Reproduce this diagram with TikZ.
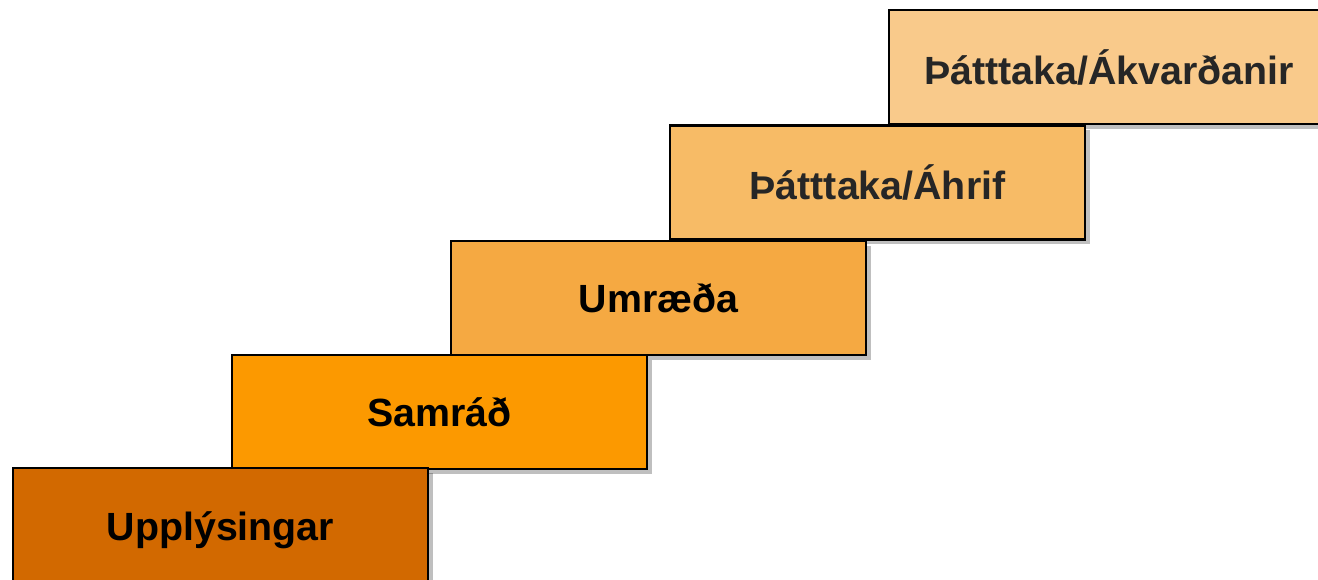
\documentclass[tikz,border=0pt]{standalone}
\usepackage{fontspec}
\setmainfont{Liberation Sans}
\usepackage{tikz}
\usetikzlibrary{shadows}
\definecolor{stepA}{RGB}{210,105,0}
\definecolor{stepB}{RGB}{252,153,0}
\definecolor{stepC}{RGB}{245,169,66}
\definecolor{stepD}{RGB}{247,187,102}
\definecolor{stepE}{RGB}{249,202,139}
\tikzset{
	stair/.style={draw=black, line width=1.7pt, inner sep=0pt,
		minimum width=311.25pt, minimum height=85.5pt,
		font=\fontsize{29.5}{35}\selectfont\bfseries,
		drop shadow={shadow xshift=3.5pt, shadow yshift=-3.5pt, fill=black, opacity=0.25}}
}

\begin{document}
\begin{tikzpicture}[x=0.75pt, y=0.75pt]
			%%%%% START %%%%%
			
			\useasboundingbox (0, 0) rectangle (1318, 580);
			\clip (0, 0) rectangle (1318, 580);
			
			\node[stair, fill=stepE, text=black!85, minimum width=330pt] (akvardanir) at (1109, 512.8) {Þátttaka/Ákvarðanir};
			\node[stair, fill=stepD, text=black!85] (ahrif) at (877.5, 397.5) {Þátttaka/Áhrif};
			\node[stair, fill=stepC] (umraeda) at (658.5, 282) {Umræða};
			\node[stair, fill=stepB] (samrad) at (439.5, 168) {Samráð};
			\node[stair, fill=stepA, minimum height=93pt] (upplysingar) at (220.5, 50) {Upplýsingar};
			
			%%%%% END %%%%%
\end{tikzpicture}
\end{document}
